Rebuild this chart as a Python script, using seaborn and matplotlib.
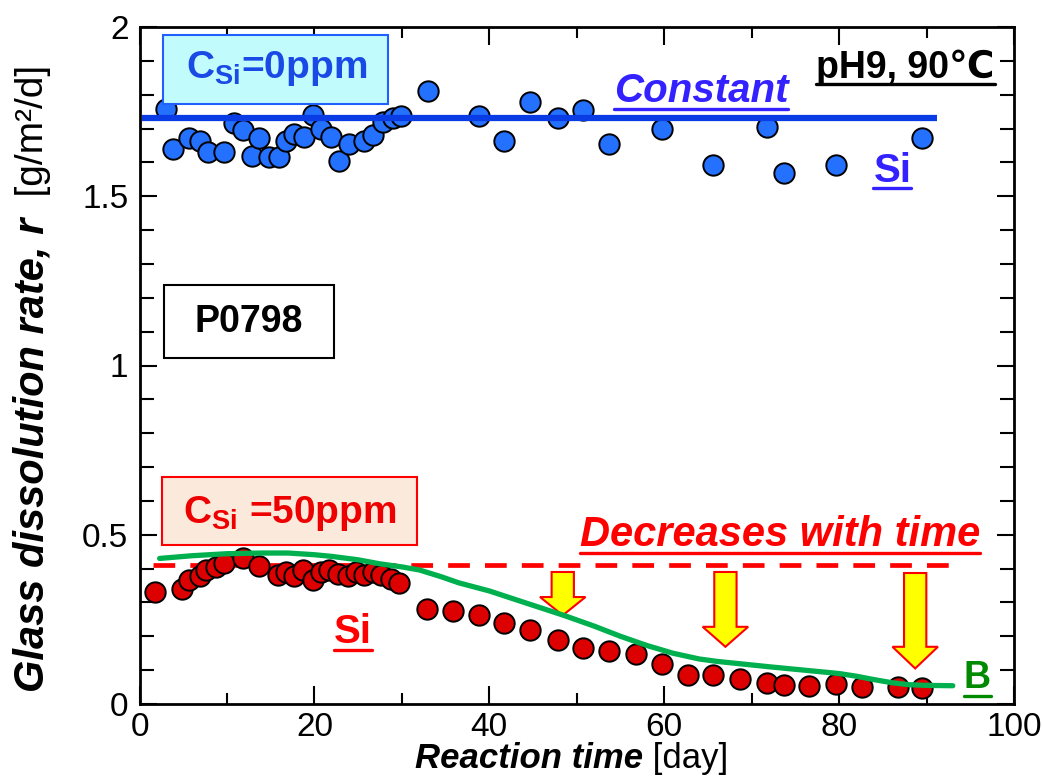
import matplotlib
matplotlib.use("Agg")
import matplotlib.pyplot as plt
import seaborn as sns
import pandas as pd
from matplotlib.patches import Rectangle, FancyArrow
from matplotlib.lines import Line2D

# ---------------- data ----------------
time_si0 = [3.0, 3.8, 5.7, 6.9, 7.8, 9.7, 10.8, 11.8, 12.9, 13.7, 14.8, 15.9, 16.8,
            17.7, 18.8, 19.8, 20.7, 21.9, 22.8, 23.9, 25.7, 26.7, 27.8, 29.0, 29.9,
            33.0, 38.8, 41.7, 44.7, 47.8, 50.7, 53.7, 59.7, 65.6, 71.7, 73.7, 79.7, 89.5]
rate_si0 = [1.758, 1.639, 1.673, 1.663, 1.632, 1.632, 1.715, 1.696, 1.620, 1.671, 1.615,
            1.617, 1.663, 1.683, 1.676, 1.740, 1.700, 1.676, 1.604, 1.653, 1.663, 1.681,
            1.720, 1.730, 1.738, 1.811, 1.738, 1.664, 1.777, 1.732, 1.755, 1.654, 1.699,
            1.593, 1.704, 1.570, 1.593, 1.671]

time_si50 = [1.8, 4.9, 5.7, 6.9, 7.6, 8.7, 9.7, 11.8, 13.7, 15.8, 16.8, 17.7, 18.7, 19.8,
             20.8, 21.7, 22.7, 23.8, 24.8, 25.7, 26.7, 27.6, 28.8, 29.7, 32.9, 35.8, 38.8,
             41.7, 44.7, 47.8, 50.7, 53.7, 56.8, 59.7, 62.7, 65.6, 68.7, 71.8, 73.7, 76.6,
             79.7, 82.6, 86.7, 89.5]
rate_si50 = [0.331, 0.341, 0.365, 0.377, 0.397, 0.404, 0.416, 0.432, 0.409, 0.380, 0.390,
             0.377, 0.395, 0.367, 0.390, 0.395, 0.385, 0.377, 0.390, 0.380, 0.390, 0.380,
             0.370, 0.357, 0.280, 0.275, 0.262, 0.240, 0.218, 0.190, 0.164, 0.157, 0.147,
             0.118, 0.085, 0.085, 0.073, 0.063, 0.056, 0.053, 0.058, 0.049, 0.051, 0.046]

time_b = [2.3, 6.0, 10.0, 14.0, 17.0, 20.0, 22.0, 25.0, 27.5, 30.0, 32.0, 34.5, 36.5,
          40.0, 44.0, 48.5, 52.0, 55.0, 58.0, 61.0, 64.0, 66.0, 69.0, 72.0, 76.0, 80.0,
          82.0, 84.0, 86.0, 88.0, 90.0, 93.0]
rate_b = [0.430, 0.438, 0.444, 0.446, 0.446, 0.441, 0.436, 0.426, 0.414, 0.405, 0.396,
          0.376, 0.358, 0.334, 0.300, 0.262, 0.230, 0.200, 0.173, 0.150, 0.133, 0.126,
          0.118, 0.110, 0.100, 0.090, 0.082, 0.072, 0.063, 0.057, 0.055, 0.054]

rate_si0_constant = 1.73
rate_si50_initial = 0.41

xticks = [0, 20, 40, 60, 80, 100]
xtick_labels = ["0", "20", "40", "60", "80", "100"]
yticks = [0, 0.5, 1, 1.5, 2]
ytick_labels = ["0", "0.5", "1", "1.5", "2"]

# ---------------- style ----------------
sns.set_style("ticks")
plt.rcParams["font.family"] = ["Liberation Sans", "DejaVu Sans"]
plt.rcParams["text.color"] = "black"
plt.rcParams["axes.labelcolor"] = "black"
plt.rcParams["xtick.color"] = "black"
plt.rcParams["ytick.color"] = "black"
plt.rcParams["mathtext.fontset"] = "custom"
plt.rcParams["mathtext.rm"] = "Liberation Sans"
plt.rcParams["mathtext.bf"] = "Liberation Sans:bold"
plt.rcParams["mathtext.it"] = "Liberation Sans:italic"

W, H = 1042, 778
fig = plt.figure(figsize=(W / 100, H / 100), dpi=100)
L, R, T, B = 139.5, 1014, 27, 704
ax = fig.add_axes([L / W, 1 - B / H, (R - L) / W, (B - T) / H])
ax.set_xlim(0, 100)
ax.set_ylim(0, 2)

blue_pt = "#2470ff"
red_pt = "#dd0000"
green = "#00b04f"
text_blue = "#3322ff"
red = "#ff0000"

df0 = pd.DataFrame({"time": time_si0, "rate": rate_si0})
df50 = pd.DataFrame({"time": time_si50, "rate": rate_si50})
dfb = pd.DataFrame({"time": time_b, "rate": rate_b})

sns.scatterplot(data=df0, x="time", y="rate", ax=ax, s=215, color=blue_pt,
                edgecolor="black", linewidth=1.4, zorder=3, legend=False)
sns.scatterplot(data=df50, x="time", y="rate", ax=ax, s=215, color=red_pt,
                edgecolor="black", linewidth=1.4, zorder=3, legend=False)

ax.hlines(rate_si0_constant, 0.3, 91.2, color="#0a3ce6", lw=4.5, zorder=4)
ax.hlines(rate_si50_initial, 1.5, 93.5, color=red, lw=3.4, zorder=2,
          linestyles=[(0, (4.6, 3.2))])

# arrows (annotations)
for xc, top, hstart, tip in [(48.4, 0.39, 0.316, 0.262),
                             (67.0, 0.39, 0.228, 0.169),
                             (88.7, 0.387, 0.169, 0.105)]:
    arr = FancyArrow(xc, top, 0, tip - top, width=2.55, head_width=5.2,
                     head_length=hstart - tip, length_includes_head=True,
                     facecolor="#ffff00", edgecolor=red, lw=1.5, zorder=4)
    ax.add_patch(arr)

sns.lineplot(data=dfb, x="time", y="rate", ax=ax, color=green, lw=3.8,
             sort=False, estimator=None, zorder=5)

# ---------------- axes ----------------
ax.set_xticks(xticks)
ax.set_xticklabels(xtick_labels)
ax.set_yticks(yticks)
ax.set_yticklabels(ytick_labels)
ax.set_xticks(range(0, 101, 10), minor=True)
ax.set_yticks([i / 10 for i in range(21)], minor=True)
ax.tick_params(which="both", direction="in", top=True, right=True, width=1.5,
               labelsize=24, colors="black", labelcolor="black")
ax.tick_params(axis="x", which="major", length=13, pad=6)
ax.tick_params(axis="x", which="minor", length=8)
ax.tick_params(axis="y", which="major", length=12, pad=8)
ax.tick_params(axis="y", which="minor", length=10)
for sp in ax.spines.values():
    sp.set_visible(True)
    sp.set_linewidth(2)
    sp.set_color("black")
ax.set_xlabel("")
ax.set_ylabel("")

# ---------------- boxes ----------------
ax.add_patch(Rectangle((2.67, 1.774), 25.8, 0.202, facecolor="#c2fbfb",
                       edgecolor="#2060ff", lw=1.5, zorder=6))
ax.text(15.7, 1.876, r"C$_{\mathbf{Si}}$=0ppm", color="#1a4ae6", fontsize=28,
        fontweight="bold", ha="center", va="center", zorder=7)

ax.add_patch(Rectangle((2.8, 1.022), 19.4, 0.215, facecolor="white",
                       edgecolor="black", lw=1.5, zorder=6))
ax.text(12.5, 1.128, "P0798", color="black", fontsize=27, fontweight="bold",
        ha="center", va="center", zorder=7)

ax.add_patch(Rectangle((2.6, 0.471), 29.1, 0.201, facecolor="#fbe9dc",
                       edgecolor=red, lw=1.5, zorder=6))
ax.text(17.2, 0.562, r"C$_{\mathbf{Si}}$ =50ppm", color="#ee0000", fontsize=28,
        fontweight="bold", ha="center", va="center", zorder=7)

# ---------------- underlined labels ----------------
underlines = []


def utext(x, y, s, color, size, style="normal", off=6, lw=2.4):
    t = ax.text(x, y, s, color=color, fontsize=size, fontweight="bold",
                fontstyle=style, ha="center", va="baseline", zorder=7)
    underlines.append((t, x, y, color, off, lw))
    return t


utext(87.6, 1.848, "pH9, 90℃", "black", 27, off=6)
utext(64.2, 1.779, "Constant", text_blue, 29, style="italic", off=7.5)
utext(86.1, 1.543, "Si", text_blue, 29, off=6)
utext(73.2, 0.468, "Decreases with time", red, 30, style="italic", off=7.5)
utext(24.4, 0.179, "Si", red, 29, off=7)
utext(95.8, 0.047, "B", "#008a00", 27, off=8)

# axis labels
ylab = fig.text(33 / W, 1 - 692 / H, "Glass dissolution rate, r", rotation=90,
                ha="center", va="bottom", fontsize=30, fontweight="bold",
                fontstyle="italic", color="black")
ax.annotate("  [g/m²/d]", xy=(0.5, 1), xycoords=ylab, rotation=90, ha="center",
            va="bottom", fontsize=28, color="black")
xlab = fig.text(415 / W, 1 - 768 / H, "Reaction time", ha="left", va="baseline",
                fontsize=25, fontweight="bold", fontstyle="italic", color="black")
ax.annotate(" [day]", xy=(1, 0), xycoords=xlab, ha="left", va="bottom",
            fontsize=25, color="black")

fig.canvas.draw()
rend = fig.canvas.get_renderer()
inv = fig.transFigure.inverted()
for t, x, y, color, off, lw in underlines:
    bb = t.get_window_extent(rend)
    yb = ax.transData.transform((x, y))[1] - off
    p0 = inv.transform((bb.x0, yb))
    p1 = inv.transform((bb.x1, yb))
    fig.add_artist(Line2D([p0[0], p1[0]], [p0[1], p1[1]], color=color, lw=lw,
                          transform=fig.transFigure))

fig.savefig("out.png", dpi=100)
